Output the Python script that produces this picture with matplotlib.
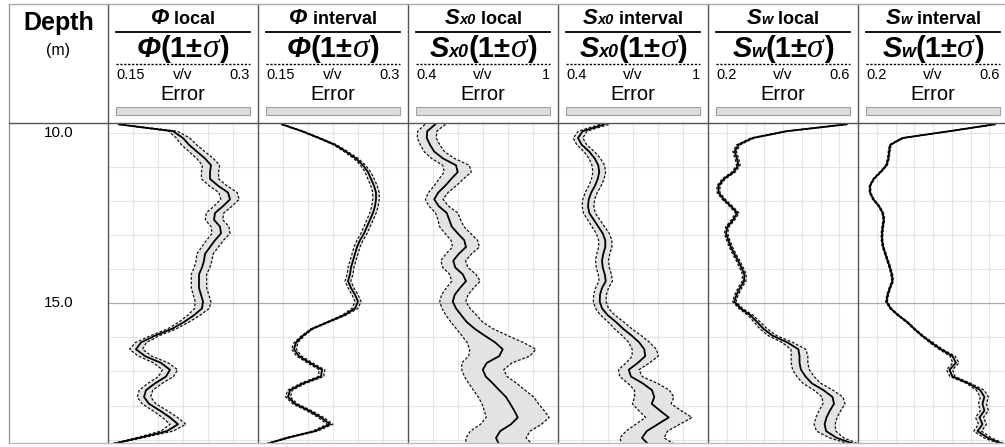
import numpy as np
import matplotlib
matplotlib.use('Agg')
import matplotlib.pyplot as plt
from matplotlib.transforms import Affine2D, blended_transform_factory
from matplotlib.lines import Line2D
from matplotlib.patches import Rectangle

W, H = 1005, 447

# depth samples (m)
depth = [9.75, 9.95, 10.15, 10.35, 10.55, 10.75, 10.95, 11.15,
         11.35, 11.55, 11.75, 11.95, 12.15, 12.35, 12.55, 12.75,
         12.95, 13.15, 13.35, 13.55, 13.75, 13.95, 14.15, 14.35,
         14.55, 14.75, 14.95, 15.15, 15.35, 15.55, 15.75, 15.95,
         16.15, 16.35, 16.55, 16.75, 16.95, 17.15, 17.35, 17.55,
         17.75, 17.95, 18.15, 18.35, 18.55, 18.75, 18.95, 19.15]

phi_local = [0.161, 0.215, 0.225, 0.231, 0.239, 0.247, 0.253, 0.252,
             0.252, 0.260, 0.270, 0.272, 0.265, 0.257, 0.256, 0.262,
             0.263, 0.257, 0.252, 0.247, 0.246, 0.244, 0.241, 0.241,
             0.241, 0.243, 0.245, 0.244, 0.236, 0.226, 0.214, 0.197,
             0.183, 0.178, 0.187, 0.203, 0.212, 0.208, 0.197, 0.188,
             0.186, 0.191, 0.202, 0.212, 0.220, 0.209, 0.181, 0.151]
phi_local_sig = [0.004, 0.020, 0.030, 0.033, 0.033, 0.034, 0.034, 0.034,
                 0.034, 0.034, 0.034, 0.034, 0.034, 0.034, 0.034, 0.034,
                 0.034, 0.033, 0.033, 0.033, 0.032, 0.032, 0.032, 0.032,
                 0.032, 0.032, 0.032, 0.030, 0.026, 0.022, 0.020, 0.022,
                 0.030, 0.036, 0.036, 0.036, 0.036, 0.036, 0.036, 0.036,
                 0.036, 0.036, 0.036, 0.036, 0.036, 0.030, 0.018, 0.005]

phi_int = [0.174, 0.194, 0.211, 0.227, 0.238, 0.248, 0.255, 0.260,
           0.263, 0.266, 0.268, 0.268, 0.267, 0.265, 0.262, 0.259,
           0.256, 0.252, 0.249, 0.247, 0.245, 0.243, 0.242, 0.240,
           0.243, 0.247, 0.250, 0.247, 0.236, 0.220, 0.204, 0.195,
           0.188, 0.186, 0.191, 0.202, 0.214, 0.213, 0.195, 0.182,
           0.180, 0.187, 0.201, 0.213, 0.222, 0.207, 0.179, 0.156]
phi_int_sig = [0.004, 0.005, 0.006, 0.007, 0.008, 0.009, 0.010, 0.011,
               0.012, 0.012, 0.012, 0.012, 0.012, 0.012, 0.012, 0.012,
               0.012, 0.012, 0.012, 0.012, 0.012, 0.012, 0.012, 0.012,
               0.012, 0.012, 0.012, 0.012, 0.008, 0.006, 0.006, 0.007,
               0.010, 0.013, 0.013, 0.013, 0.013, 0.013, 0.013, 0.013,
               0.013, 0.013, 0.013, 0.013, 0.013, 0.012, 0.010, 0.005]

sxo_local = [0.509, 0.477, 0.475, 0.488, 0.505, 0.540, 0.592, 0.599,
             0.573, 0.549, 0.521, 0.505, 0.523, 0.555, 0.565, 0.575,
             0.599, 0.625, 0.632, 0.603, 0.581, 0.589, 0.619, 0.632,
             0.608, 0.587, 0.579, 0.592, 0.613, 0.635, 0.667, 0.707,
             0.749, 0.779, 0.765, 0.715, 0.699, 0.711, 0.739, 0.765,
             0.792, 0.809, 0.825, 0.839, 0.812, 0.769, 0.752, 0.765]
sxo_local_sig = [0.080, 0.080, 0.080, 0.080, 0.080, 0.085, 0.090, 0.090,
                 0.085, 0.080, 0.075, 0.070, 0.075, 0.080, 0.080, 0.085,
                 0.085, 0.085, 0.085, 0.085, 0.085, 0.085, 0.085, 0.090,
                 0.090, 0.090, 0.090, 0.095, 0.100, 0.100, 0.110, 0.130,
                 0.150, 0.170, 0.160, 0.140, 0.120, 0.120, 0.130, 0.135,
                 0.140, 0.140, 0.145, 0.150, 0.150, 0.155, 0.160, 0.175]

sxo_int = [0.585, 0.499, 0.480, 0.495, 0.525, 0.547, 0.561, 0.565,
           0.559, 0.548, 0.533, 0.523, 0.520, 0.525, 0.543, 0.561,
           0.579, 0.589, 0.589, 0.581, 0.576, 0.579, 0.587, 0.591,
           0.576, 0.568, 0.567, 0.576, 0.599, 0.632, 0.661, 0.695,
           0.725, 0.745, 0.749, 0.719, 0.683, 0.692, 0.739, 0.776,
           0.785, 0.775, 0.808, 0.843, 0.799, 0.755, 0.736, 0.763]
sxo_int_sig = [0.030, 0.035, 0.040, 0.040, 0.040, 0.042, 0.045, 0.045,
               0.045, 0.045, 0.045, 0.045, 0.045, 0.045, 0.045, 0.045,
               0.045, 0.045, 0.045, 0.045, 0.045, 0.045, 0.045, 0.045,
               0.045, 0.045, 0.045, 0.045, 0.048, 0.050, 0.052, 0.055,
               0.058, 0.065, 0.070, 0.065, 0.060, 0.065, 0.080, 0.090,
               0.100, 0.100, 0.105, 0.110, 0.110, 0.110, 0.120, 0.140]

sw_local = [0.568, 0.410, 0.319, 0.281, 0.271, 0.277, 0.281, 0.268,
            0.242, 0.228, 0.228, 0.242, 0.261, 0.278, 0.267, 0.252,
            0.248, 0.254, 0.261, 0.270, 0.280, 0.289, 0.297, 0.296,
            0.285, 0.276, 0.270, 0.287, 0.313, 0.331, 0.348, 0.372,
            0.412, 0.441, 0.444, 0.444, 0.448, 0.460, 0.477, 0.508,
            0.532, 0.536, 0.525, 0.516, 0.511, 0.515, 0.543, 0.595]
sw_local_sig = [0.008, 0.010, 0.014, 0.017, 0.017, 0.017, 0.017, 0.017,
                0.017, 0.017, 0.017, 0.017, 0.017, 0.017, 0.017, 0.017,
                0.017, 0.017, 0.017, 0.017, 0.017, 0.017, 0.017, 0.017,
                0.017, 0.017, 0.017, 0.017, 0.022, 0.025, 0.028, 0.030,
                0.035, 0.045, 0.050, 0.050, 0.050, 0.050, 0.050, 0.050,
                0.052, 0.055, 0.055, 0.055, 0.055, 0.050, 0.035, 0.020]

sw_int = [0.564, 0.444, 0.319, 0.286, 0.283, 0.281, 0.276, 0.260,
          0.242, 0.232, 0.232, 0.241, 0.256, 0.266, 0.269, 0.266,
          0.264, 0.264, 0.267, 0.273, 0.279, 0.285, 0.290, 0.292,
          0.285, 0.279, 0.276, 0.287, 0.307, 0.331, 0.350, 0.371,
          0.395, 0.421, 0.452, 0.461, 0.444, 0.452, 0.495, 0.526,
          0.537, 0.532, 0.537, 0.524, 0.532, 0.519, 0.546, 0.590]
sw_int_sig = [0.006, 0.006, 0.008, 0.008, 0.008, 0.008, 0.008, 0.008,
              0.008, 0.008, 0.008, 0.008, 0.008, 0.008, 0.008, 0.008,
              0.008, 0.008, 0.008, 0.008, 0.008, 0.008, 0.008, 0.008,
              0.008, 0.008, 0.008, 0.008, 0.008, 0.008, 0.008, 0.008,
              0.012, 0.012, 0.015, 0.018, 0.018, 0.015, 0.012, 0.020,
              0.020, 0.020, 0.020, 0.020, 0.020, 0.020, 0.018, 0.010]

# track definitions: symbol, subscript, kind, scale min, scale max, grid divisions
symbols = ['Φ', 'Φ', 'S', 'S', 'S', 'S']
subscripts = ['', '', 'x0', 'x0', 'w', 'w']
kinds = ['local', 'interval', 'local', 'interval', 'local', 'interval']
scale_lo = [0.15, 0.15, 0.4, 0.4, 0.2, 0.2]
scale_hi = [0.3, 0.3, 1.0, 1.0, 0.6, 0.6]
scale_lo_lbl = ['0.15', '0.15', '0.4', '0.4', '0.2', '0.2']
scale_hi_lbl = ['0.3', '0.3', '1', '1', '0.6', '0.6']
n_div = [6, 6, 6, 6, 8, 8]
values = [phi_local, phi_int, sxo_local, sxo_int, sw_local, sw_int]
sigmas = [phi_local_sig, phi_int_sig, sxo_local_sig, sxo_int_sig,
          sw_local_sig, sw_int_sig]

y_top, y_bot = 9.71, 19.1
track_left0, track_w = 108, 150
px_top, px_hdr, px_bot = 4, 123, 443

SANS = 'Liberation Sans'
SERIF = 'Liberation Serif'

fig = plt.figure(figsize=(W / 100, H / 100), dpi=100)
fig.patch.set_facecolor('white')
# pixel coordinates, origin top-left
tr = Affine2D().scale(1 / W, -1 / H).translate(0, 1) + fig.transFigure
renderer = fig.canvas.get_renderer()


def pieces_text(xc, y, pieces):
    """Draw a row of differently styled strings, centred on xc, on baseline y"""
    objs = []
    for s, kw in pieces:
        t = fig.text(0, y, s, transform=tr, va='baseline', ha='left', **kw)
        objs.append(t)
    widths = [t.get_window_extent(renderer=renderer).width for t in objs]
    x = xc - sum(widths) / 2
    for t, w in zip(objs, widths):
        t.set_x(x)
        x += w


def hline(x0, x1, y, **kw):
    fig.add_artist(Line2D([x0, x1], [y, y], transform=tr, **kw))


def vline(x, y0, y1, **kw):
    fig.add_artist(Line2D([x, x], [y0, y1], transform=tr, **kw))


# depth column
axd = fig.add_axes([9 / W, (H - px_bot) / H, (track_left0 - 9) / W,
                    (px_bot - px_hdr) / H])
axd.set_ylim(y_bot, y_top)
axd.axis('off')
btr = blended_transform_factory(axd.transAxes, axd.transData)
for d in [10, 15]:
    axd.text(0.5, d, f'{d:.1f}', transform=btr, ha='center', va='center',
             fontsize=11, family=SANS)
fig.text(59, 30, 'Depth', transform=tr, ha='center', va='baseline',
         fontsize=18, fontweight='bold', family=SANS)
fig.text(58, 55, '(m)', transform=tr, ha='center', va='baseline',
         fontsize=11.5, family=SANS)

bi = dict(family=SANS, fontweight='bold', fontstyle='italic')
bo = dict(family=SANS, fontweight='bold')

for i in range(6):
    left = track_left0 + i * track_w
    lo, hi = scale_lo[i], scale_hi[i]
    ax = fig.add_axes([left / W, (H - px_bot) / H, track_w / W,
                       (px_bot - px_hdr) / H])
    ax.set_xlim(lo, hi)
    ax.set_ylim(y_bot, y_top)
    ax.set_xticks(np.linspace(lo, hi, n_div[i] + 1)[1:-1])
    ax.set_yticks([10, 11, 12, 13, 14, 16, 17, 18, 19])
    ax.tick_params(length=0, labelbottom=False, labelleft=False)
    ax.grid(True, color='#e4e4e4', lw=0.8)
    ax.axhline(15, color='#aaaaaa', lw=0.9)
    for sp in ax.spines.values():
        sp.set_visible(False)

    v = np.array(values[i])
    s = np.array(sigmas[i])
    lower = v * (1 - s)
    upper = v * (1 + s)
    ax.fill_betweenx(depth, lower, upper, color='#e3e3e3', lw=0)
    ax.plot(lower, depth, color='#111111', lw=0.9, ls=(0, (2.2, 1.4)))
    ax.plot(upper, depth, color='#111111', lw=0.9, ls=(0, (2.2, 1.4)))
    ax.plot(v, depth, color='black', lw=1.3)

    # header
    L, R = left + 8, left + track_w - 8
    xc = (L + R) / 2
    sym, sub = symbols[i], subscripts[i]
    title = [(sym, dict(fontsize=16, **bi))]
    if sub:
        title.append((sub, dict(fontsize=10.5, **bi)))
    title.append((' ' + kinds[i], dict(fontsize=13, **bo)))
    pieces_text(xc, 24, title)
    hline(L, R, 31.5, color='black', lw=1.3)

    formula = [(sym, dict(fontsize=21, **bi))]
    if sub:
        formula.append((sub, dict(fontsize=13, **bi)))
    formula += [('(1±', dict(fontsize=21, **bo)),
                ('σ', dict(fontsize=24, family=SERIF, fontstyle='italic')),
                (')', dict(fontsize=21, **bo))]
    pieces_text(xc, 57, formula)
    hline(L, R, 63.5, color='black', lw=1.0, ls=(0, (1.6, 1.2)))

    fig.text(L, 79, scale_lo_lbl[i], transform=tr, ha='left', va='baseline',
             fontsize=10.5, family=SANS)
    fig.text(xc, 79, 'v/v', transform=tr, ha='center', va='baseline',
             fontsize=11, family=SANS)
    fig.text(R, 79, scale_hi_lbl[i], transform=tr, ha='right', va='baseline',
             fontsize=10.5, family=SANS)
    fig.text(xc, 99.5, 'Error', transform=tr, ha='center', va='baseline',
             fontsize=14.5, family=SANS)
    fig.add_artist(Rectangle((L, 107), R - L, 8, transform=tr,
                             facecolor='#dcdcdc', edgecolor='#a0a0a0', lw=0.8))

# frame
for i in range(6):
    vline(track_left0 + i * track_w, px_top, px_bot, color='#555555', lw=1.0)
vline(9, px_top, px_bot, color='#999999', lw=1.0)
hline(9, W, px_top, color='#aaaaaa', lw=1.0)
hline(9, W, px_hdr, color='#555555', lw=1.0)
hline(9, W, px_bot, color='#bbbbbb', lw=1.0)

fig.savefig('out.png', dpi=100)
